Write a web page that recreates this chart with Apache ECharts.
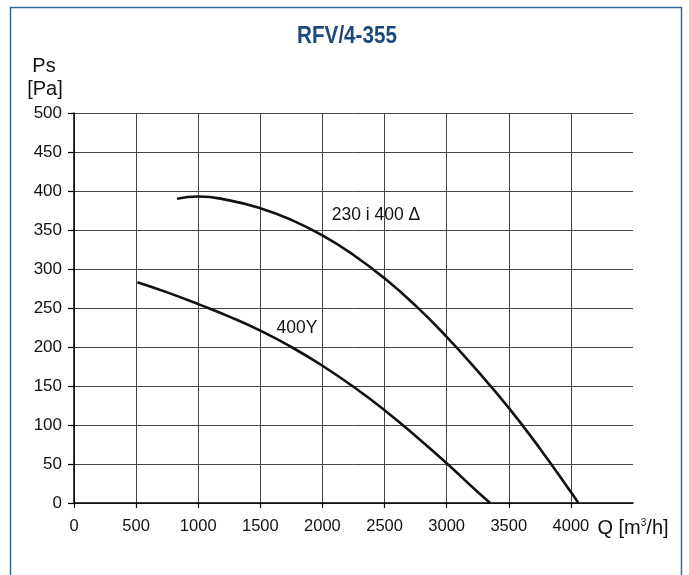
<!DOCTYPE html>
<html>
<head>
<meta charset="utf-8">
<script src="https://cdn.jsdelivr.net/npm/echarts@6/dist/echarts.min.js"></script>
<style>
html,body{margin:0;padding:0;background:#fff;}
#chart{width:689px;height:575px;}
</style>
</head>
<body>
<div id="chart"></div>
<script>
const titleText = 'RFV/4-355';
const xTicks = [0, 500, 1000, 1500, 2000, 2500, 3000, 3500, 4000, 4500];
const yTicks = [0, 50, 100, 150, 200, 250, 300, 350, 400, 450, 500];
const curveDeltaName = '230 i 400 Δ';
const curveDeltaQ = [830, 1000, 1250, 1500, 1750, 2000, 2250, 2500, 2750, 3000, 3250, 3500, 3750, 4000, 4060];
const curveDeltaP = [390, 393, 388, 378, 363, 343, 318, 288, 253, 213, 169, 122, 70, 14, 0];
const curveYName = '400Y';
const curveYQ = [510, 750, 1000, 1250, 1500, 1750, 2000, 2250, 2500, 2750, 3000, 3250, 3350];
const curveYP = [283, 270, 255, 239, 221, 200, 176, 149, 119, 86, 51, 14, 0];
const labelDeltaPos = [2431, 369];
const labelYPos = [1795, 224];

const pair = (qs, ps) => qs.map((q, i) => [q, ps[i]]);
const FONT = '"Liberation Sans", Arial, sans-serif';

const chart = echarts.init(document.getElementById('chart'), null, {renderer: 'canvas'});
chart.setOption({
  backgroundColor: '#ffffff',
  animation: false,
  graphic: [
    {type: 'rect', shape: {x: 10.5, y: 7.5, width: 671, height: 620},
     style: {fill: 'none', stroke: '#35689f', lineWidth: 1.5}, silent: true, z: 0},
    {type: 'text', x: 347, y: 36, scaleX: 0.86,
     style: {text: titleText, font: 'bold 24px ' + FONT, fill: '#1d4a7c', align: 'center', verticalAlign: 'middle'}},
    {type: 'text', x: 44, y: 66, style: {text: 'Ps', font: '20px ' + FONT, fill: '#111', align: 'center', verticalAlign: 'middle'}},
    {type: 'text', x: 45, y: 89, style: {text: '[Pa]', font: '20px ' + FONT, fill: '#111', align: 'center', verticalAlign: 'middle'}}
  ],
  grid: {left: 74, right: 56, top: 113, bottom: 72, containLabel: false},
  xAxis: {
    type: 'value',
    min: xTicks[0],
    max: xTicks[xTicks.length - 1],
    interval: 500,
    axisLine: {show: true, onZero: false, lineStyle: {color: '#000', width: 1.5}},
    axisTick: {show: true, inside: false, length: 5, lineStyle: {color: '#000', width: 1.2},
      customValues: xTicks.slice(0, -1)},
    axisLabel: {
      margin: 15,
      fontFamily: FONT,
      fontSize: 16.5,
      color: '#111',
      showMaxLabel: true,
      formatter: function (v) {
        if (v === 4500) return '{q|Q [m}{s|3}{q|/h]}';
        return String(v);
      },
      rich: {
        q: {fontFamily: FONT, fontSize: 20, color: '#111'},
        s: {fontFamily: FONT, fontSize: 10, color: '#111', padding: [0, 0, 11, 0]}
      }
    },
    splitLine: {show: true, lineStyle: {color: '#444', width: 1}}
  },
  yAxis: {
    type: 'value',
    min: yTicks[0],
    max: yTicks[yTicks.length - 1],
    interval: 50,
    axisLine: {show: true, onZero: false, lineStyle: {color: '#000', width: 1.5}},
    axisTick: {show: true, inside: false, length: 6, lineStyle: {color: '#000', width: 1.2}},
    axisLabel: {margin: 12, fontFamily: FONT, fontSize: 17, color: '#111'},
    splitLine: {show: true, lineStyle: {color: '#444', width: 1}}
  },
  series: [
    {
      name: curveDeltaName,
      type: 'line',
      smooth: true,
      showSymbol: false,
      data: pair(curveDeltaQ, curveDeltaP),
      lineStyle: {color: '#111', width: 2.6},
      markPoint: {
        symbol: 'circle', symbolSize: 0,
        label: {show: true, position: 'inside', formatter: curveDeltaName, fontFamily: FONT, fontSize: 17.5, color: '#111'},
        data: [{coord: labelDeltaPos}]
      }
    },
    {
      name: curveYName,
      type: 'line',
      smooth: true,
      showSymbol: false,
      data: pair(curveYQ, curveYP),
      lineStyle: {color: '#111', width: 2.6},
      markPoint: {
        symbol: 'circle', symbolSize: 0,
        label: {show: true, position: 'inside', formatter: curveYName, fontFamily: FONT, fontSize: 17.5, color: '#111'},
        data: [{coord: labelYPos}]
      }
    }
  ]
});
</script>
</body>
</html>
